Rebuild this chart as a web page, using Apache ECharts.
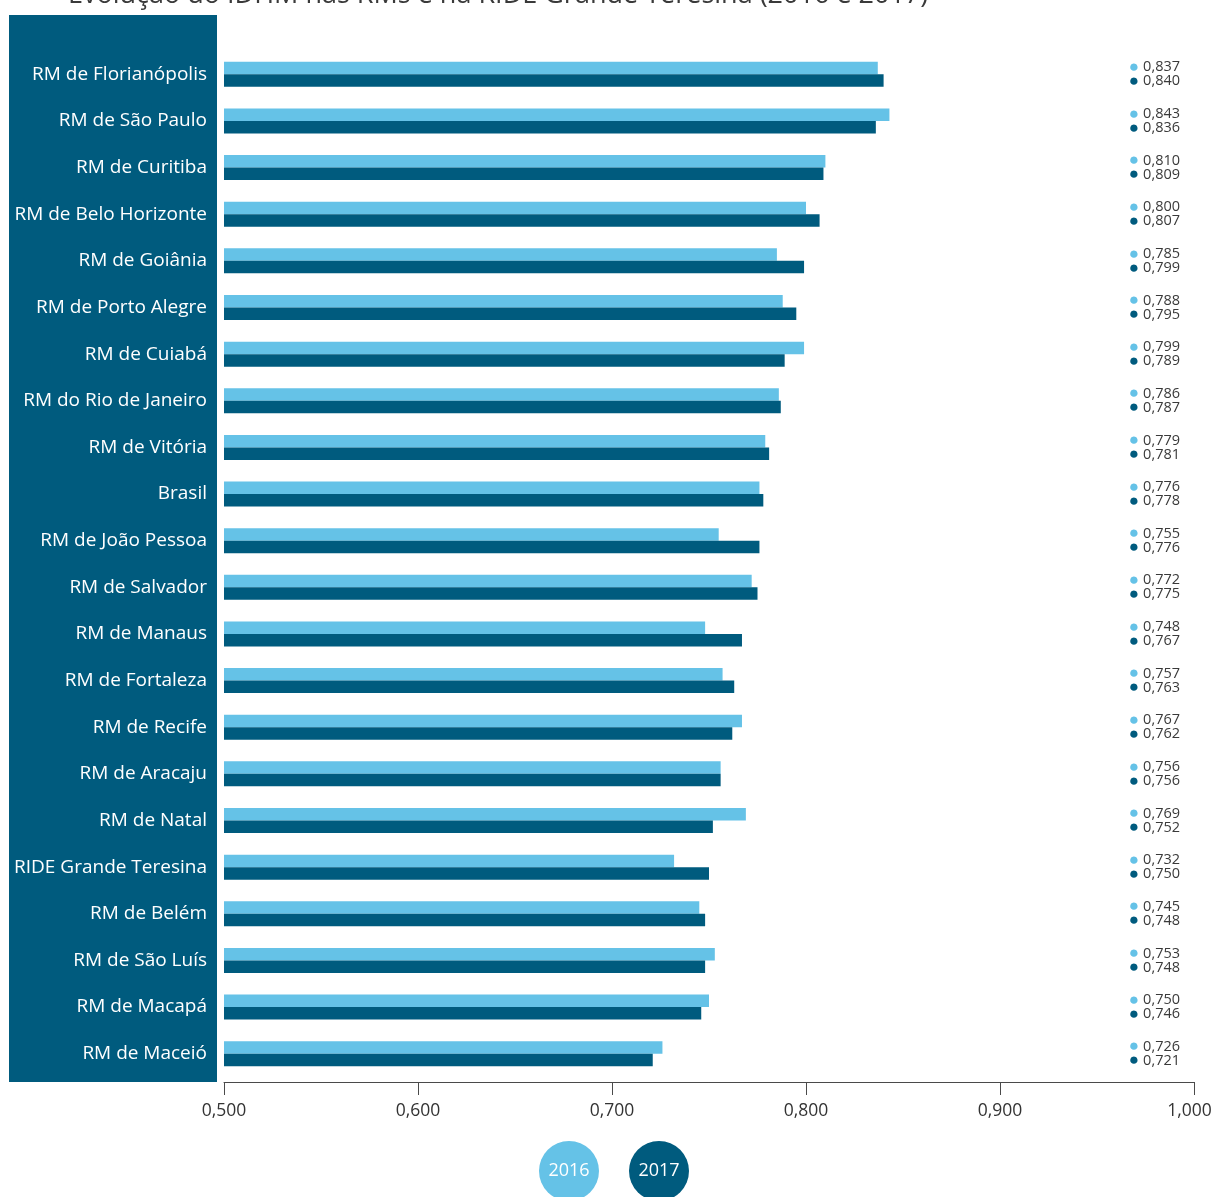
<!DOCTYPE html>
<html>
<head>
<meta charset="utf-8">
<script src="https://cdn.jsdelivr.net/npm/echarts@6/dist/echarts.min.js"></script>
<style>
  html, body { margin: 0; padding: 0; background: #fff; }
  #chart { width: 1212px; height: 1197px; }
</style>
</head>
<body>
<div id="chart"></div>
<script>
// IDHM of the metropolitan regions, 2016 and 2017
const titleText = 'Evolução do IDHM nas RMs e na RIDE Grande Teresina (2016 e 2017)';
const years = ['2016', '2017'];
const regions = [
  'RM de Florianópolis', 'RM de São Paulo', 'RM de Curitiba', 'RM de Belo Horizonte',
  'RM de Goiânia', 'RM de Porto Alegre', 'RM de Cuiabá', 'RM do Rio de Janeiro',
  'RM de Vitória', 'Brasil', 'RM de João Pessoa', 'RM de Salvador', 'RM de Manaus',
  'RM de Fortaleza', 'RM de Recife', 'RM de Aracaju', 'RM de Natal',
  'RIDE Grande Teresina', 'RM de Belém', 'RM de São Luís', 'RM de Macapá', 'RM de Maceió'
];
const idhm2016 = [0.837, 0.843, 0.810, 0.800, 0.785, 0.788, 0.799, 0.786, 0.779, 0.776, 0.755,
  0.772, 0.748, 0.757, 0.767, 0.756, 0.769, 0.732, 0.745, 0.753, 0.750, 0.726];
const idhm2017 = [0.840, 0.836, 0.809, 0.807, 0.799, 0.795, 0.789, 0.787, 0.781, 0.778, 0.776,
  0.775, 0.767, 0.763, 0.762, 0.756, 0.752, 0.750, 0.748, 0.748, 0.746, 0.721];
const xTicks = [0.5, 0.6, 0.7, 0.8, 0.9, 1.0];

const LIGHT = '#65c2e7';
const DARK = '#005b7e';
const FONT = '"Open Sans", "Noto Sans", sans-serif';

const fmt = v => v.toFixed(3).replace('.', ',');

const chart = echarts.init(document.getElementById('chart'), null, { renderer: 'canvas' });

chart.setOption({
  animation: false,
  backgroundColor: '#ffffff',
  title: {
    text: titleText,
    left: 63,
    top: -23,
    textStyle: { fontFamily: FONT, fontSize: 27, fontWeight: 'normal', color: '#3a3a3a' }
  },
  grid: {
    left: 224, right: 18, top: 51, height: 1026,
    containLabel: false, outerBoundsMode: 'none'
  },
  xAxis: {
    type: 'value',
    min: xTicks[0],
    max: xTicks[xTicks.length - 1],
    interval: 0.1,
    offset: 5,
    axisLine: { show: true, lineStyle: { color: '#4a4a4a', width: 1 } },
    axisTick: { show: true, length: 13, lineStyle: { color: '#4a4a4a' } },
    splitLine: { show: false },
    axisLabel: {
      margin: 20,
      fontFamily: FONT, fontSize: 17.5, color: '#333',
      // the last label is nudged left so it stays on the page
      formatter: v => (v >= xTicks[xTicks.length - 1] ? '{end|' + fmt(v) + '}' : fmt(v)),
      rich: {
        end: { fontFamily: FONT, fontSize: 17.5, color: '#333', padding: [0, 9, 0, 0] }
      }
    }
  },
  yAxis: [
    {
      type: 'category',
      data: regions,
      inverse: true,
      axisLine: { show: false },
      axisTick: { show: false },
      axisLabel: { margin: 17, fontFamily: FONT, fontSize: 19, color: '#ffffff' },
      z: 5
    },
    {
      type: 'category',
      data: regions,
      inverse: true,
      position: 'right',
      axisLine: { show: false },
      axisTick: { show: false },
      axisLabel: {
        inside: true,
        margin: 14,
        formatter: (value, idx) =>
          '{a|●}{s| }{v|' + fmt(idhm2016[idx]) + '}\n{b|●}{s| }{v|' + fmt(idhm2017[idx]) + '}',
        rich: {
          a: { color: LIGHT, fontSize: 17, lineHeight: 14 },
          b: { color: DARK, fontSize: 17, lineHeight: 14 },
          s: { fontSize: 15, lineHeight: 14 },
          v: { color: '#3a3a3a', fontFamily: FONT, fontSize: 14.5, lineHeight: 14 }
        }
      }
    }
  ],
  series: [
    {
      name: years[0], type: 'bar', data: idhm2016, yAxisIndex: 0,
      barWidth: 12.5, barGap: '0%',
      itemStyle: { color: LIGHT }
    },
    {
      name: years[1], type: 'bar', data: idhm2017, yAxisIndex: 0,
      barWidth: 12.5, barGap: '0%',
      itemStyle: { color: DARK }
    }
  ],
  graphic: [
    { type: 'rect', left: 9, top: 15, z: -10, shape: { width: 208, height: 1067 }, style: { fill: DARK } },
    {
      type: 'group', left: 539, top: 1141, z: 10,
      children: [
        { type: 'circle', shape: { cx: 30, cy: 30, r: 30 }, style: { fill: LIGHT } },
        { type: 'text', x: 30, y: 30, style: { text: years[0], fill: '#fff', font: '18px ' + FONT, textAlign: 'center', textVerticalAlign: 'middle' } },
        { type: 'circle', shape: { cx: 120, cy: 30, r: 30 }, style: { fill: DARK } },
        { type: 'text', x: 120, y: 30, style: { text: years[1], fill: '#fff', font: '18px ' + FONT, textAlign: 'center', textVerticalAlign: 'middle' } }
      ]
    }
  ]
});
</script>
</body>
</html>
